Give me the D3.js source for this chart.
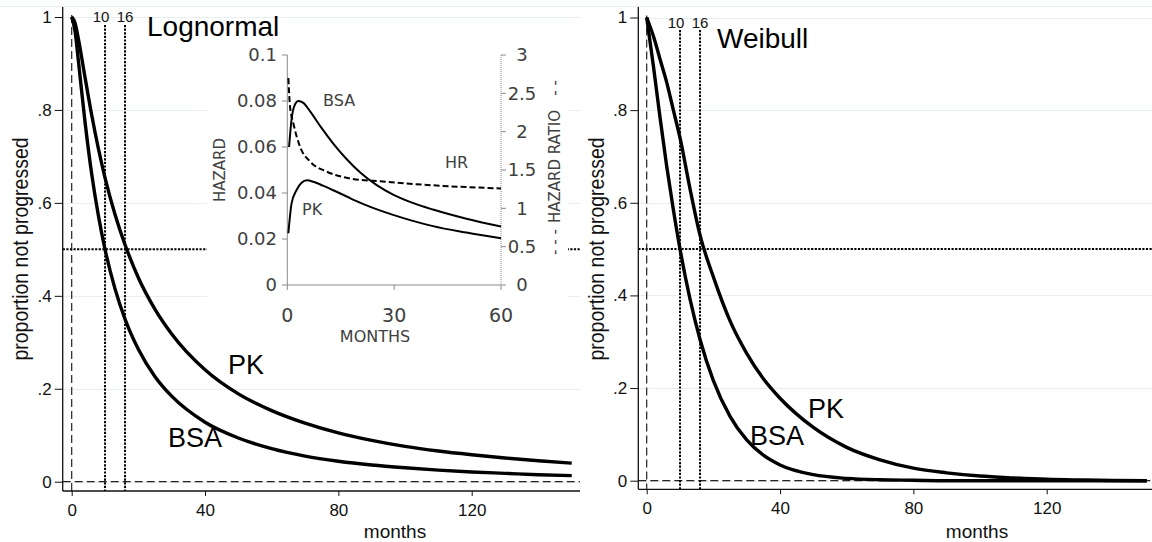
<!DOCTYPE html>
<html><head><meta charset="utf-8">
<script src="https://cdn.jsdelivr.net/npm/d3@7"></script>
<style>
html,body{margin:0;padding:0;background:#fff;}
svg{display:block;}
</style></head><body>
<svg id="chart" width="1152" height="542"></svg>
<script>
// Proportion not progressed, lognormal model
const lognMonths = [0,1,2,4,6,8,10,13,16,20,25,30,40,50,60,70,80,90,100,110,120,130,140,150];
const lognBSA = [1,0.970,0.906,0.774,0.662,0.573,0.5,0.415,0.350,0.285,0.226,0.184,0.128,0.094,0.071,0.055,0.044,0.036,0.030,0.025,0.021,0.018,0.015,0.013];
const lognPK  = [1,0.987,0.953,0.870,0.789,0.717,0.654,0.575,0.510,0.439,0.371,0.318,0.241,0.189,0.153,0.126,0.105,0.089,0.076,0.066,0.058,0.051,0.045,0.040];

// Proportion not progressed, Weibull model
const weibMonths = [0,2,4,6,8,10,13,16,20,25,30,35,40,50,60,70,80,90,100,110,120,130,140,150];
const weibBSA = [1,0.896,0.784,0.679,0.585,0.5,0.392,0.305,0.216,0.139,0.088,0.055,0.034,0.013,0.005,0.002,0.001,0,0,0,0,0,0,0];
const weibPK  = [1,0.96,0.91,0.86,0.80,0.74,0.63,0.53,0.44,0.345,0.275,0.22,0.178,0.115,0.072,0.045,0.027,0.017,0.010,0.006,0.003,0.0015,0.0005,0];

// Inset: hazard (left axis) and hazard ratio (right axis) over 60 months
const hazBSAMonths = [0.5,1.2,1.9,3.1,4.5,6.4,9.5,12.9,16.5,20.4,25,29.7,35,40.9,50.3,60];
const hazBSA       = [0.060,0.072,0.0775,0.080,0.0792,0.0755,0.0685,0.0615,0.0550,0.0490,0.0435,0.0393,0.0358,0.0328,0.0288,0.0254];
const hazPKMonths  = [0.3,1.2,2.6,4,5.5,7.3,10,12.9,16.5,20.4,25,29.7,35,40.9,50.3,60];
const hazPK        = [0.0225,0.0355,0.0413,0.0445,0.0455,0.0449,0.0432,0.0412,0.0386,0.0358,0.0330,0.0305,0.0280,0.0256,0.0228,0.0203];
const hrMonths     = [0.3,0.76,1.7,3.6,6.4,11,17.6,26.9,40.9,60];
const hrValues     = [2.70,2.33,2.11,1.80,1.61,1.48,1.39,1.35,1.30,1.26];

// Axis ticks
const yTicks = [0,0.2,0.4,0.6,0.8,1];
const yTickLabels = ["0",".2",".4",".6",".8","1"];
const xTicks = [0,40,80,120];
const refMonths = [10,16];
const insetHazTicks = [0,0.02,0.04,0.06,0.08,0.1];
const insetHazLabels = ["0","0.02","0.04","0.06","0.08","0.1"];
const insetHrTicks = [0,0.5,1,1.5,2,2.5,3];
const insetHrLabels = ["0","0.5","1","1.5","2","2.5","3"];
const insetXTicks = [0,30,60];

const svg = d3.select("#chart");
const SANS = '"Liberation Sans", Arial, sans-serif';
const GRID = "#e6eef0";

svg.append("line").attr("x1",0).attr("x2",1152).attr("y1",6.5).attr("y2",6.5)
  .attr("stroke",GRID).attr("stroke-width",1);

function panel(c) {
  const g = svg.append("g");
  const x = d3.scaleLinear().domain([0,150]).range(c.xRange);
  const y = d3.scaleLinear().domain([0,1]).range(c.yRange);

  // gridlines
  g.append("g").selectAll("line").data(yTicks).join("line")
    .attr("x1",c.axisX).attr("x2",c.right)
    .attr("y1",d=>Math.round(y(d))+0.5).attr("y2",d=>Math.round(y(d))+0.5)
    .attr("stroke",GRID).attr("stroke-width",1);

  // reference lines
  g.append("line").attr("x1",c.axisX).attr("x2",c.right).attr("y1",y(0)).attr("y2",y(0))
    .attr("stroke","#222").attr("stroke-width",1.2).attr("stroke-dasharray","8,4");
  g.append("line").attr("x1",c.axisX).attr("x2",c.right).attr("y1",y(0.5)).attr("y2",y(0.5))
    .attr("stroke","#000").attr("stroke-width",2).attr("stroke-dasharray","2.2,1.4");
  g.append("line").attr("x1",x(0)).attr("x2",x(0)).attr("y1",y(1)-2).attr("y2",c.bottom)
    .attr("stroke","#222").attr("stroke-width",1.2).attr("stroke-dasharray","8,4");
  g.append("g").selectAll("line").data(refMonths).join("line")
    .attr("x1",d=>x(d)).attr("x2",d=>x(d)).attr("y1",c.refTop).attr("y2",c.bottom)
    .attr("stroke","#000").attr("stroke-width",2).attr("stroke-dasharray","2.2,1.4");
  g.append("g").selectAll("text").data(refMonths).join("text")
    .attr("x",(d,i)=>x(d)-(i===0?4:0)).attr("y",c.refLabelY)
    .attr("text-anchor","middle").attr("font-family",SANS).attr("font-size",15)
    .attr("fill","#111").text(d=>d);

  // survival curves
  const line = d3.line().x(d=>x(d[0])).y(d=>y(d[1])).curve(d3.curveMonotoneX);
  [c.bsa, c.pk].forEach(vals => {
    g.append("path").datum(c.months.map((m,i)=>[m,vals[i]]))
      .attr("d",line).attr("fill","none").attr("stroke","#000")
      .attr("stroke-width",3.4).attr("stroke-linejoin","round");
  });

  // axes
  const ya = g.append("g").attr("transform",`translate(${c.axisX},0)`)
    .call(d3.axisLeft(y).tickValues(yTicks).tickFormat((d,i)=>yTickLabels[i]).tickSize(8).tickPadding(3));
  ya.select(".domain").remove();
  ya.attr("font-family",SANS).attr("font-size",17).attr("color","#111");
  const xa = g.append("g").attr("transform",`translate(0,${c.bottom})`)
    .call(d3.axisBottom(x).tickValues(xTicks).tickSize(5).tickPadding(8));
  xa.select(".domain").remove();
  xa.attr("font-family",SANS).attr("font-size",17).attr("color","#111");
  g.append("line").attr("x1",c.axisX).attr("x2",c.axisX).attr("y1",7).attr("y2",c.bottom)
    .attr("stroke","#111").attr("stroke-width",1.3);
  g.append("line").attr("x1",c.axisX).attr("x2",c.right).attr("y1",c.bottom).attr("y2",c.bottom)
    .attr("stroke","#111").attr("stroke-width",1.3);

  // titles
  g.append("text").attr("transform",`translate(${c.yTitleX},249) scale(1.1,1) rotate(-90)`)
    .attr("text-anchor","middle").attr("dominant-baseline","central")
    .attr("font-family",SANS).attr("font-size",19.5).attr("fill","#111")
    .text("proportion not progressed");
  g.append("text").attr("x",c.xTitleX).attr("y",538).attr("text-anchor","middle")
    .attr("font-family",SANS).attr("font-size",19).attr("fill","#111").text("months");
  g.append("text").attr("x",c.title[1]).attr("y",c.title[2])
    .attr("font-family",SANS).attr("font-size",28).attr("fill","#000").text(c.title[0]);
  c.labels.forEach(l => g.append("text").attr("x",l[1]).attr("y",l[2])
    .attr("font-family",SANS).attr("font-size",27).attr("fill","#000").text(l[0]));
}

panel({
  xRange:[71.7,571.7], yRange:[481.7,17], axisX:62.7, right:580, bottom:491,
  refTop:25, refLabelY:22, yTitleX:20, xTitleX:395,
  months:lognMonths, bsa:lognBSA, pk:lognPK,
  title:["Lognormal",147,36],
  labels:[["PK",228,374],["BSA",168,447]]
});
panel({
  xRange:[646.7,1146.7], yRange:[480.7,17.5], axisX:638.3, right:1152, bottom:489.3,
  refTop:30, refLabelY:28, yTitleX:596, xTitleX:977,
  months:weibMonths, bsa:weibBSA, pk:weibPK,
  title:["Weibull",717,48],
  labels:[["PK",808,418],["BSA",750,445]]
});

// ---- inset: hazard and hazard ratio ----
(function inset(){
  const INS = '"DejaVu Sans", sans-serif';
  const TXT = "#404040", AX = "#8a8a8a";
  const g = svg.append("g");
  g.append("rect").attr("x",207).attr("y",40).attr("width",361).attr("height",310).attr("fill","#fff");
  const x = d3.scaleLinear().domain([0,60]).range([287.3,501]);
  const yh = d3.scaleLinear().domain([0,0.1]).range([285,55]);
  const yr = d3.scaleLinear().domain([0,3]).range([285,55]);

  // axis lines and ticks
  g.append("line").attr("x1",287.3).attr("x2",287.3).attr("y1",55).attr("y2",285).attr("stroke",AX);
  g.append("line").attr("x1",287.3).attr("x2",501).attr("y1",285).attr("y2",285).attr("stroke",AX);
  g.append("line").attr("x1",501).attr("x2",501).attr("y1",55).attr("y2",285)
    .attr("stroke",AX).attr("stroke-dasharray","1,1");
  g.append("g").selectAll("line").data(insetHazTicks).join("line")
    .attr("x1",282).attr("x2",287.3).attr("y1",d=>yh(d)).attr("y2",d=>yh(d)).attr("stroke",AX);
  g.append("g").selectAll("line").data(insetHrTicks).join("line")
    .attr("x1",501).attr("x2",506).attr("y1",d=>yr(d)).attr("y2",d=>yr(d)).attr("stroke",AX);
  g.append("g").selectAll("line").data(insetXTicks).join("line")
    .attr("x1",d=>x(d)).attr("x2",d=>x(d)).attr("y1",285).attr("y2",290).attr("stroke",AX);

  // tick labels
  g.append("g").selectAll("text").data(insetHazTicks).join("text")
    .attr("x",277).attr("y",d=>yh(d)).attr("dy","0.36em").attr("text-anchor","end")
    .attr("font-family",INS).attr("font-size",18).attr("fill",TXT).text((d,i)=>insetHazLabels[i]);
  g.append("g").selectAll("text").data(insetHrTicks).join("text")
    .attr("x",522).attr("y",d=>yr(d)).attr("dy","0.36em").attr("text-anchor","middle")
    .attr("font-family",INS).attr("font-size",18).attr("fill",TXT).text((d,i)=>insetHrLabels[i]);
  g.append("g").selectAll("text").data(insetXTicks).join("text")
    .attr("x",d=>x(d)).attr("y",322).attr("text-anchor","middle")
    .attr("font-family",INS).attr("font-size",19).attr("fill",TXT).text(d=>d);

  // axis titles
  g.append("text").attr("x",375).attr("y",342).attr("text-anchor","middle")
    .attr("font-family",INS).attr("font-size",16).attr("fill",TXT).text("MONTHS");
  g.append("text").attr("transform","translate(220,170) rotate(-90)")
    .attr("text-anchor","middle").attr("dominant-baseline","central")
    .attr("font-family",INS).attr("font-size",15).attr("fill",TXT).text("HAZARD");
  // right axis title with dash marks indicating the dashed line
  [["HAZARD RATIO",166.5],["- -",88],["- - -",242]].forEach(t =>
    g.append("text").attr("transform",`translate(555,${t[1]}) rotate(-90)`)
      .attr("text-anchor","middle").attr("dominant-baseline","central")
      .attr("font-family",INS).attr("font-size",15).attr("fill",TXT)
      .attr("xml:space","preserve").text(t[0]));

  // curves
  const hl = d3.line().x(d=>x(d[0])).y(d=>yh(d[1])).curve(d3.curveMonotoneX);
  const rl = d3.line().x(d=>x(d[0])).y(d=>yr(d[1])).curve(d3.curveMonotoneX);
  g.append("path").datum(hazBSAMonths.map((m,i)=>[m,hazBSA[i]])).attr("d",hl)
    .attr("fill","none").attr("stroke","#000").attr("stroke-width",2);
  g.append("path").datum(hazPKMonths.map((m,i)=>[m,hazPK[i]])).attr("d",hl)
    .attr("fill","none").attr("stroke","#000").attr("stroke-width",2);
  g.append("path").datum(hrMonths.map((m,i)=>[m,hrValues[i]])).attr("d",rl)
    .attr("fill","none").attr("stroke","#000").attr("stroke-width",2).attr("stroke-dasharray","6,3");

  // curve labels
  [["BSA",323,106],["HR",445,168],["PK",302,215]].forEach(l =>
    g.append("text").attr("x",l[1]).attr("y",l[2]).attr("font-family",INS)
      .attr("font-size",16).attr("fill",TXT).text(l[0]));
})();
</script>
</body></html>
